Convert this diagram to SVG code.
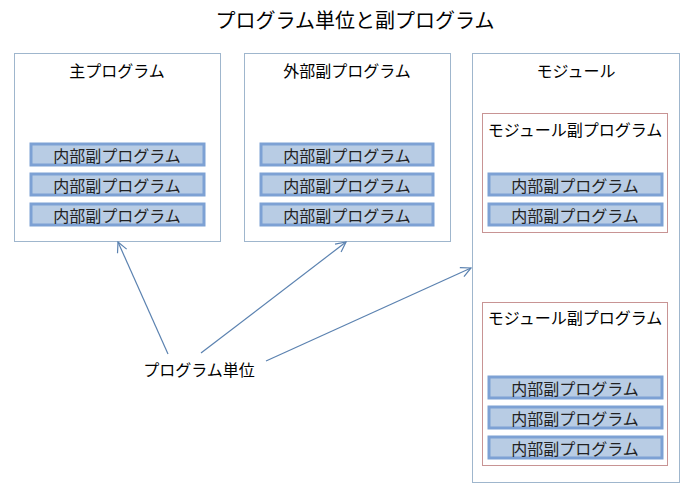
<svg xmlns="http://www.w3.org/2000/svg" width="686" height="490" viewBox="0 0 686 490">
<style>
text{font-family:"Noto Sans CJK JP","Noto Sans",sans-serif;font-size:16px;fill:#000;text-anchor:middle;dominant-baseline:central}
.outer{fill:#fff;stroke:#9fb6cd;stroke-width:1}
.sub{fill:#fff;stroke:#c89494;stroke-width:1}
.inner rect{fill:#b8cce4;stroke:#7da1d4;stroke-width:3}
.inner text{fill:#222}
.conn{stroke:#5b82b0;stroke-width:1.2;fill:none;marker-end:url(#arr)}
</style>
<defs>
<marker id="arr" viewBox="0 0 12 12" refX="11" refY="6" markerWidth="12" markerHeight="12" markerUnits="userSpaceOnUse" orient="auto">
<path d="M1,1 L11,6 L1,11" fill="none" stroke="#5b82b0" stroke-width="1.2"/>
</marker>
</defs>
<rect width="686" height="490" fill="#fff"/>
<text x="355" y="19" style="font-size:20px">プログラム単位と副プログラム</text>

<g id="main">
<rect class="outer" x="14.5" y="53.5" width="206" height="188"/>
<text x="117" y="70">主プログラム</text>
<g class="inner"><rect x="31" y="144" width="173" height="21"/><text x="117" y="155">内部副プログラム</text></g>
<g class="inner"><rect x="31" y="174" width="173" height="21"/><text x="117" y="185">内部副プログラム</text></g>
<g class="inner"><rect x="31" y="204" width="173" height="21"/><text x="117" y="215">内部副プログラム</text></g>
</g>

<g id="external">
<rect class="outer" x="244.5" y="53.5" width="206" height="188"/>
<text x="347" y="70">外部副プログラム</text>
<g class="inner"><rect x="261" y="144" width="172" height="21"/><text x="347" y="155">内部副プログラム</text></g>
<g class="inner"><rect x="261" y="174" width="172" height="21"/><text x="347" y="185">内部副プログラム</text></g>
<g class="inner"><rect x="261" y="204" width="172" height="21"/><text x="347" y="215">内部副プログラム</text></g>
</g>

<g id="module">
<rect class="outer" x="472.5" y="53.5" width="207" height="429"/>
<text x="576" y="70">モジュール</text>
<g id="modsub1">
<rect class="sub" x="482.5" y="113.5" width="185" height="119"/>
<text x="575" y="129">モジュール副プログラム</text>
<g class="inner"><rect x="489" y="174" width="173" height="21"/><text x="575" y="185">内部副プログラム</text></g>
<g class="inner"><rect x="489" y="204" width="173" height="21"/><text x="575" y="215">内部副プログラム</text></g>
</g>
<g id="modsub2">
<rect class="sub" x="482.5" y="302.5" width="185" height="163"/>
<text x="575" y="317">モジュール副プログラム</text>
<g class="inner"><rect x="489" y="377" width="173" height="21"/><text x="575" y="388">内部副プログラム</text></g>
<g class="inner"><rect x="489" y="407" width="173" height="21"/><text x="575" y="418">内部副プログラム</text></g>
<g class="inner"><rect x="489" y="437" width="173" height="21"/><text x="575" y="448">内部副プログラム</text></g>
</g>
</g>

<g id="unit"><text x="199" y="369">プログラム単位</text></g>

<g id="connectors">
<line class="conn" x1="168" y1="354" x2="118" y2="242"/>
<line class="conn" x1="201" y1="353" x2="346" y2="242"/>
<line class="conn" x1="266" y1="361" x2="471" y2="268"/>
</g>
</svg>
